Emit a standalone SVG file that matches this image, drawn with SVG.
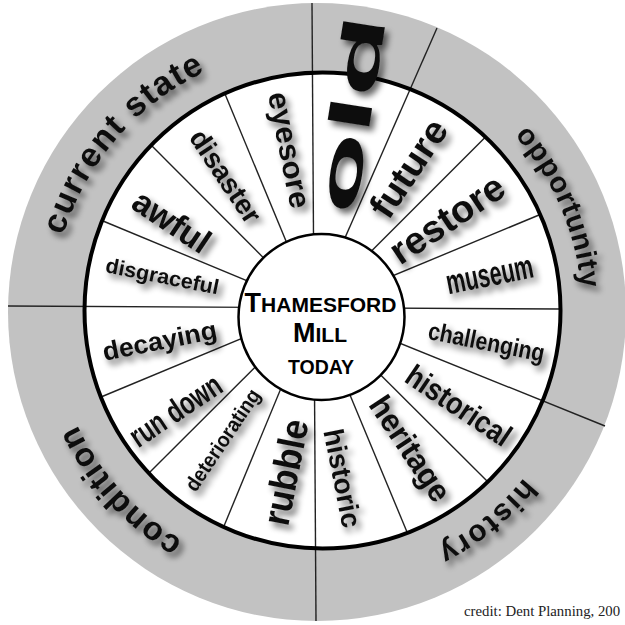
<svg xmlns="http://www.w3.org/2000/svg" width="625" height="625" viewBox="0 0 625 625">
<style>
.w{font-family:"Liberation Sans",Arial,Helvetica,sans-serif;font-weight:bold;fill:#111;}
.c{font-family:"Liberation Sans",Arial,Helvetica,sans-serif;font-weight:bold;fill:#000;text-anchor:middle;}
.ln{stroke:#222;stroke-width:1.4;fill:none;}
</style>
<defs>
<filter id="sh" filterUnits="userSpaceOnUse" x="0" y="0" width="625" height="625">
<feGaussianBlur in="SourceAlpha" stdDeviation="3"/>
<feOffset dx="4" dy="5" result="b"/>
<feComponentTransfer><feFuncA type="linear" slope="0.6"/></feComponentTransfer>
<feMerge><feMergeNode/><feMergeNode in="SourceGraphic"/></feMerge>
</filter>
<path id="arc" d="M 317 577 A 265 265 0 1 1 317 47 A 265 265 0 1 1 317 577" fill="none"/>
</defs>
<rect width="625" height="625" fill="#fff"/>
<g id="rings">
<circle cx="317" cy="312" r="309" fill="#c2c2c2"/>
<circle cx="322.5" cy="310.5" r="238" fill="#fff"/>
</g>
<g id="connectors">
<line class="ln" x1="312" y1="3" x2="316" y2="621"/>
<line class="ln" x1="8" y1="306" x2="561" y2="309"/>
<line class="ln" x1="314" y1="308.5" x2="437" y2="28"/>
<line class="ln" x1="314" y1="308.5" x2="485.5" y2="137"/>
<line class="ln" x1="314" y1="308.5" x2="539" y2="215"/>
<line class="ln" x1="314" y1="308.5" x2="605" y2="426"/>
<line class="ln" x1="314" y1="308.5" x2="487" y2="481"/>
<line class="ln" x1="314" y1="308.5" x2="407" y2="532"/>
<line class="ln" x1="314" y1="308.5" x2="223.6" y2="527"/>
<line class="ln" x1="314" y1="308.5" x2="149" y2="473"/>
<line class="ln" x1="314" y1="308.5" x2="101" y2="397"/>
<line class="ln" x1="314" y1="308.5" x2="103" y2="221"/>
<line class="ln" x1="314" y1="308.5" x2="152" y2="146"/>
<line class="ln" x1="314" y1="308.5" x2="225" y2="94"/>
</g>
<circle cx="322.5" cy="310.5" r="238" fill="none" stroke="#000" stroke-width="4"/>
<g id="hub">
<circle cx="321.5" cy="317" r="83" fill="#fff" stroke="#000" stroke-width="2.5"/>
<text class="c" x="320.5" y="312"><tspan font-size="27">T</tspan><tspan font-size="21">HAMESFORD</tspan></text>
<text class="c" x="320" y="342"><tspan font-size="27">M</tspan><tspan font-size="21">ILL</tspan></text>
<text class="c" x="321" y="374" font-size="19.5">TODAY</text>
</g>
<g id="categories" filter="url(#sh)">
<text class="w" font-size="33" letter-spacing="1.3" text-anchor="middle"><textPath href="#arc" startOffset="220.8">condition</textPath></text>
<text class="w" font-size="34" letter-spacing="1.4" text-anchor="middle"><textPath href="#arc" startOffset="605.9">current state</textPath></text>
<text class="w" font-size="29" letter-spacing="0.8" text-anchor="middle"><textPath href="#arc" startOffset="1140">opportunity</textPath></text>
<text class="w" font-size="30" letter-spacing="2" text-anchor="middle"><textPath href="#arc" startOffset="1484.2">history</textPath></text>
</g>
<g id="n-old" filter="url(#sh)"><text class="w" transform="translate(355,216) rotate(-81) scale(2.3,1)" font-size="58">old</text></g>
<g id="n-future" filter="url(#sh)"><text class="w" transform="translate(408,168) rotate(-56.25)" x="0" y="13.3" font-size="37" text-anchor="middle" textLength="110" lengthAdjust="spacingAndGlyphs">future</text></g>
<g id="n-restore" filter="url(#sh)"><text class="w" transform="translate(447,219) rotate(-33.75)" x="0" y="12.9" font-size="38" text-anchor="middle" textLength="130" lengthAdjust="spacingAndGlyphs">restore</text></g>
<g id="n-museum" filter="url(#sh)"><text class="w" transform="translate(490,277) rotate(-11.25)" x="0" y="8.8" font-size="34" text-anchor="middle" textLength="88" lengthAdjust="spacingAndGlyphs">museum</text></g>
<g id="n-challenging" filter="url(#sh)"><text class="w" transform="translate(486,344) rotate(11.25)" x="0" y="6.4" font-size="25" text-anchor="middle" textLength="118" lengthAdjust="spacingAndGlyphs">challenging</text></g>
<g id="n-historical" filter="url(#sh)"><text class="w" transform="translate(459,405) rotate(33.75)" x="0" y="11.2" font-size="31" text-anchor="middle" textLength="120" lengthAdjust="spacingAndGlyphs">historical</text></g>
<g id="n-heritage" filter="url(#sh)"><text class="w" transform="translate(408,450) rotate(56.25)" x="0" y="8.2" font-size="32" text-anchor="middle" textLength="120" lengthAdjust="spacingAndGlyphs">heritage</text></g>
<g id="n-historic" filter="url(#sh)"><text class="w" transform="translate(343,478) rotate(78.75)" x="0" y="10.1" font-size="28" text-anchor="middle" textLength="100" lengthAdjust="spacingAndGlyphs">historic</text></g>
<g id="n-rubble" filter="url(#sh)"><text class="w" transform="translate(285,472) rotate(-78.75)" x="0" y="13.7" font-size="38" text-anchor="middle" textLength="107" lengthAdjust="spacingAndGlyphs">rubble</text></g>
<g id="n-deteriorating" filter="url(#sh)"><text class="w" transform="translate(224,441) rotate(-56.25)" x="0" y="5.4" font-size="21" text-anchor="middle" textLength="118" lengthAdjust="spacingAndGlyphs">deteriorating</text></g>
<g id="n-rundown" filter="url(#sh)"><text class="w" transform="translate(175,410) rotate(-33.75)" x="0" y="11.5" font-size="32" text-anchor="middle" textLength="104" lengthAdjust="spacingAndGlyphs">run down</text></g>
<g id="n-decaying" filter="url(#sh)"><text class="w" transform="translate(160,343) rotate(-11.25)" x="0" y="6.6" font-size="26" text-anchor="middle" textLength="116" lengthAdjust="spacingAndGlyphs">decaying</text></g>
<g id="n-disgraceful" filter="url(#sh)"><text class="w" transform="translate(162,278) rotate(11.25)" x="0" y="5.4" font-size="21" text-anchor="middle" textLength="115" lengthAdjust="spacingAndGlyphs">disgraceful</text></g>
<g id="n-awful" filter="url(#sh)"><text class="w" transform="translate(172,221) rotate(33.75)" x="0" y="12.2" font-size="34" text-anchor="middle" textLength="86" lengthAdjust="spacingAndGlyphs">awful</text></g>
<g id="n-disaster" filter="url(#sh)"><text class="w" transform="translate(226,176) rotate(56.25)" x="0" y="10.1" font-size="28" text-anchor="middle" textLength="106" lengthAdjust="spacingAndGlyphs">disaster</text></g>
<g id="n-eyesore" filter="url(#sh)"><text class="w" transform="translate(284,151) rotate(78.75)" x="0" y="4.8" font-size="30" text-anchor="middle" textLength="118" lengthAdjust="spacingAndGlyphs">eyesore</text></g>
<text x="464" y="616" font-family="'Liberation Serif','Times New Roman',serif" font-size="14.8" fill="#222">credit: Dent Planning, 200</text>
</svg>
